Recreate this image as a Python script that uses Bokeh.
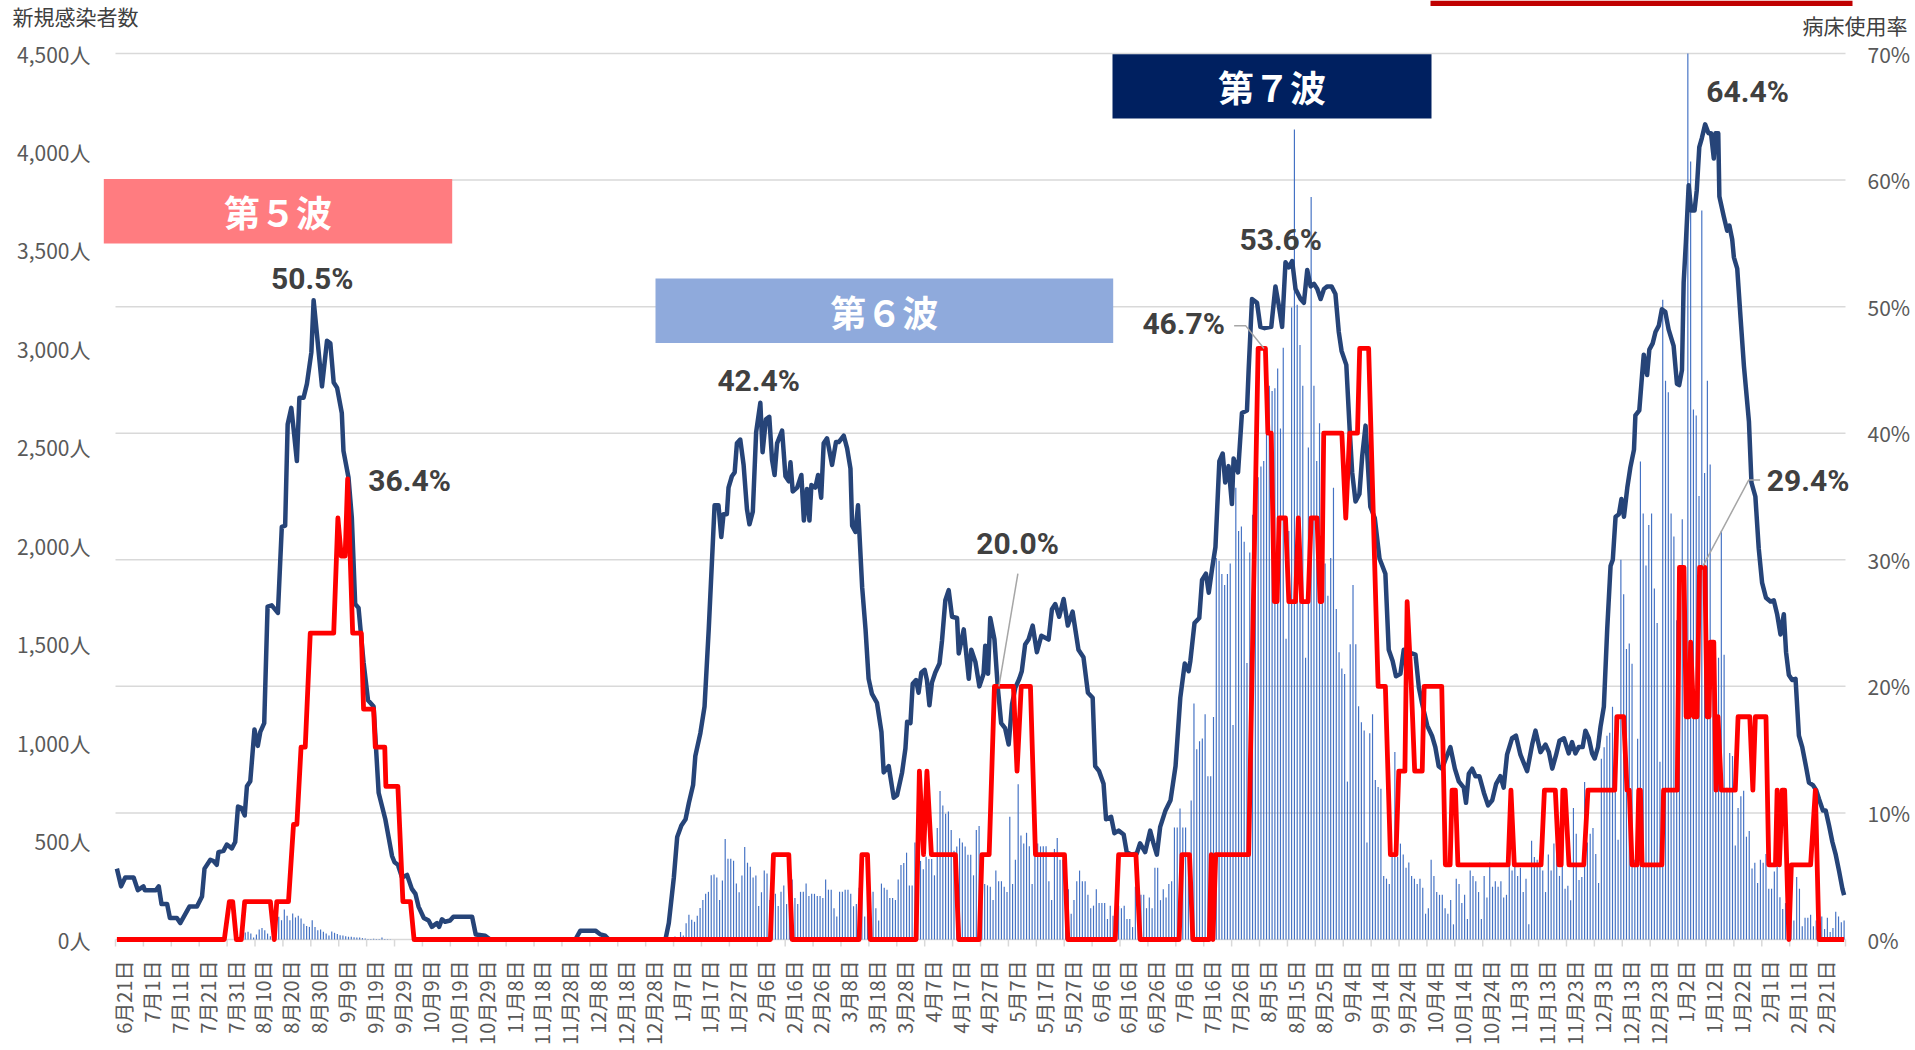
from datetime import date, timedelta
from math import pi

from bokeh.core.properties import value
from bokeh.embed import file_html
from bokeh.models import (BoxAnnotation, ColumnDataSource, Label, LabelSet, Range1d)
from bokeh.plotting import figure
from bokeh.resources import INLINE

# ------------------------------------------------------------------ data
start_date = date(2021, 6, 21)
n_days = 620
tick_days = list(range(0, 611, 10))
tick_labels = [f"{(start_date + timedelta(days=d)).month}月{(start_date + timedelta(days=d)).day}日"
               for d in tick_days]

cases_ticks = [0, 500, 1000, 1500, 2000, 2500, 3000, 3500, 4000, 4500]
cases_tick_labels = [f"{v:,}人" for v in cases_ticks]
rate_ticks = [0, 10, 20, 30, 40, 50, 60, 70]
rate_tick_labels = [f"{v}%" for v in rate_ticks]

# daily new cases (bars)
cases_w5_start = 46
cases_w5 = [36, 39, 30, 10, 25, 51, 58, 47, 30, 17, 30, 60, 115, 98, 152, 120, 98, 132, 112, 120,
            107, 80, 68, 64, 98, 64, 47, 51, 39, 30, 20, 41, 34, 28, 22, 20, 17, 14, 14, 12,
            10, 10, 7, 5, 3, 3, 4, 3, 2, 10, 3, 2, 1]
cases_w6_start = 200
cases_w6 = [15, 10, 38, 20, 82, 126,
            100, 90, 120, 160, 200, 232, 242, 326, 330, 315,
            200, 300, 510, 410, 410, 400, 285, 240, 325, 470,
            390, 370, 315, 325, 170, 240, 350, 335, 200, 242,
            232, 170, 242, 274, 180, 305, 305, 211, 180, 242,
            242, 284, 221, 232, 232, 221, 221, 211, 305, 253,
            253, 159, 117, 242, 242, 253, 253, 232, 169, 180,
            263, 263, 117, 242, 242, 242, 159, 96, 284, 263,
            253, 211, 211, 200, 305, 378, 389, 441, 274, 274,
            493, 409, 399, 357, 420, 409, 409, 326, 566, 754,
            681, 639, 650, 556, 451, 472, 514, 493, 472, 430,
            430, 326, 556, 577]
cases_w7_start = 310
cases_w7 = [249, 282, 275, 268, 200, 350, 296, 296, 268, 241,
            624, 282, 405, 788, 528, 487, 542, 473, 282, 651,
            487, 473, 473, 473, 296, 200, 460, 515, 405, 405,
            268, 255, 131, 200, 296, 350, 296, 296, 227, 159,
            172, 255, 186, 186, 186, 104, 172, 120, 77, 172,
            159, 172, 104, 104, 63, 268, 77, 227, 227, 159,
            213, 159, 364, 364, 200, 255, 213, 282, 296, 569,
            569, 665, 569, 569, 419, 706, 1199, 966, 1007, 1021,
            1144, 829, 829, 1130, 1938, 1924, 1856, 1801, 1856, 1910,
            1089, 2294, 2075, 2097, 2020, 1404, 1965, 2157, 2294, 2348,
            2403, 2430, 2896, 2813,
            2786, 2800, 2900, 2595, 3005, 1527, 2075, 3210, 4114, 3224,
            3019, 2813, 1431, 2499, 3771, 2813, 2430, 2622, 2075, 1910,
            1746, 1938, 2294, 1678, 1459, 1377, 1349, 802, 1500, 1801,
            1500, 1185, 1103, 1062, 493, 1048, 1144, 810, 775, 766,
            323, 309, 282, 432, 952, 419, 487, 432, 364, 391,
            323, 309, 282, 309, 263, 131, 159, 405, 323, 241,
            227, 227, 159, 131, 200, 77, 309, 282, 186, 227,
            104, 350, 323, 296, 241, 104, 323, 213, 391, 268,
            296, 268, 296, 213, 227, 391, 350, 378, 323, 364,
            241, 309, 77, 501, 419, 405, 378, 350, 241, 432,
            350, 487, 432, 323]
cases_w8_start = 518
cases_w8 = [405, 258, 273, 199, 668, 537, 302, 317, 800, 493,
            537, 566, 434, 287, 918, 976, 1035, 1050, 1182, 1138,
            507, 1929, 1753, 1475, 1504, 1401, 405, 1020, 2428, 2164,
            1900, 2105, 2164, 1783, 1607, 903, 3249, 2838, 2780, 2164,
            2047, 1621, 1636, 2134, 1753, 4500, 3952, 2692, 2662, 2252,
            3703, 2369, 2838, 2413, 1460, 1079, 1431, 2076, 1446, 771,
            947, 932, 478, 668, 727, 756, 522, 551, 361, 390,
            287, 405, 390, 434, 258, 258, 346, 522, 214, 155,
            185, 97, 141, 97, 317, 258, 67, 111, 111, 126,
            67, 97, 76, 117, 53, 111, 38, 59, 141, 117,
            88, 97]

# bed occupancy rate (navy line), (day, %)
bed_rate_w5 = [(0, 5.6), (1.5, 4.2), (3, 4.9), (6, 4.9), (7.5, 3.9), (9.5, 4.2), (10, 3.9), (14, 3.9),
               (15, 4.2), (16, 2.8), (18, 2.8), (19, 1.7), (21.5, 1.7), (22.7, 1.3), (26, 2.6),
               (28.7, 2.6), (30.5, 3.4), (31.4, 5.6), (33.5, 6.3), (34.6, 6.2), (35.8, 5.9),
               (36.4, 6.9), (38.2, 7.0), (39.4, 7.5), (41.2, 7.2), (42.4, 7.7), (43.4, 10.5),
               (44.6, 10.4), (45.8, 9.8), (46.6, 12.1), (47.8, 12.5), (49.3, 16.6), (50.5, 15.3),
               (51.4, 16.4), (52.8, 17.1), (54, 26.3), (55.5, 26.4), (57.7, 25.8), (59.1, 32.6),
               (60.3, 32.7), (61.2, 40.7), (62.5, 42.0), (63.3, 40.4), (64.5, 37.8), (65.4, 42.8),
               (66.9, 42.8), (68.1, 43.9), (69.7, 46.4), (70.5, 50.5), (71.7, 47.8), (73.5, 43.7),
               (75.3, 47.3), (76.5, 47.1), (77.7, 44.0), (78.9, 43.6), (80.6, 41.6), (81.2, 38.6),
               (83, 36.5), (84.2, 33.3), (85.4, 26.5), (86.6, 26.2), (88.4, 21.9), (90, 18.9),
               (92, 18.4), (93.8, 11.6), (96.2, 9.5), (98.6, 6.6), (99.5, 6.1), (100.7, 5.9),
               (102.2, 4.9), (104, 5.1), (105.7, 4.0), (107, 3.6), (108.1, 2.6), (110, 1.7),
               (111.7, 1.5), (112.9, 1.0), (114.7, 1.3), (115.5, 1.0), (116.5, 1.6), (117.6, 1.4),
               (119.4, 1.5), (120.6, 1.8), (127.3, 1.8), (128.6, 0.4), (132, 0.3), (133.8, 0),
               (164.3, 0), (166.1, 0.7), (171.5, 0.7), (173.3, 0.4), (175, 0.3), (176.3, 0),
               (196.6, 0), (197.8, 1.3), (199.6, 4.9), (200.8, 8.1), (202.3, 9.0), (203.8, 9.5),
               (205, 10.8)]
bed_rate_w6 = [(206.5, 12.2), (207.3, 14.5), (209.1, 16.3), (210.6, 18.4), (212.1, 24.5), (213.5, 31.0),
               (214.2, 34.3), (215.6, 34.3), (216.6, 31.8), (217.4, 33.6), (218.6, 33.6), (219.2, 35.7),
               (220.4, 36.6), (221.4, 36.9), (222.2, 39.2), (223.4, 39.5), (224.6, 37.5), (225.8, 34.0),
               (226.7, 32.8), (227.9, 33.8), (229.1, 40.1), (230.6, 42.4), (231.4, 38.5), (232.6, 41.1),
               (233.8, 41.3), (234.8, 37.9), (235.7, 36.7), (236.6, 39.2), (238.4, 40.2), (239.6, 36.6),
               (240.8, 36.2), (241.4, 37.7), (242.2, 35.4), (243.8, 35.7), (245.3, 36.7), (246.2, 33.1),
               (247.3, 35.6), (248.2, 33.1), (248.9, 35.9), (250.3, 35.7), (251.3, 36.7), (252.4, 34.9),
               (253.3, 39.2), (254.5, 39.6), (256.3, 37.5), (257.7, 39.3), (258.7, 39.3), (260.5, 39.8),
               (261.7, 38.8), (262.9, 37.2), (263.5, 32.7), (264.7, 32.2), (265.6, 34.3), (267.1, 27.8),
               (268.3, 24.5), (269.4, 20.6), (270.6, 19.4), (272.4, 18.7), (274, 16.4), (274.8, 13.2),
               (276.6, 13.7), (278.4, 11.2), (279.6, 11.4), (281.4, 13.2), (282.6, 15.1), (283.2, 17.2),
               (284.4, 17.1), (285.2, 20.2), (286.4, 20.5), (287.3, 19.5), (288.3, 21.1), (289.5, 21.3),
               (290.3, 20.5), (291.2, 18.5), (292.1, 20.3), (293.3, 21.1), (294.8, 21.8), (295.7, 23.6),
               (296.9, 26.8), (298.1, 27.6), (299.3, 25.5), (301.1, 25.4), (301.7, 22.6), (303.5, 24.5),
               (305.3, 20.6), (306.2, 22.9), (307.7, 21.9), (309.1, 20.0), (310.6, 21.0), (311.2, 23.2),
               (312.2, 21.0), (313, 25.4), (314.5, 23.7), (315.7, 19.9), (316.9, 17.1), (318.3, 16.7),
               (319.6, 15.4), (320.8, 18.6), (322, 19.9), (323.4, 20.6), (324.3, 21.2), (325.5, 23.3),
               (326.7, 23.7), (328.2, 24.8), (329.7, 22.7), (331.3, 24.0), (333.9, 23.7), (335.1, 26.1),
               (336.3, 26.5), (337.7, 25.5), (339.3, 26.9), (340.8, 24.8), (342.5, 25.9), (344.6, 22.9),
               (346.4, 22.3), (348, 19.5), (349.7, 19.1), (350.6, 13.7), (352, 13.3), (353.6, 12.3),
               (354.5, 9.5), (356.3, 9.7), (357.5, 8.4), (359, 8.6), (360.8, 8.3), (361.9, 6.9),
               (363.7, 6.7), (365.5, 6.8), (366.7, 7.6), (368.5, 6.9), (370.3, 8.6), (371.5, 7.6),
               (372.7, 6.7), (373.9, 8.9)]
bed_rate_w7 = [(375.8, 10.2), (377.6, 11.0), (379.4, 13.7), (381.1, 19.1), (382.7, 21.8), (384.1, 21.2),
               (384.7, 22.0), (386.2, 25.0), (387.9, 25.4), (388.9, 28.4), (390.3, 28.9), (391.3, 27.4),
               (392.5, 29.3), (393.7, 31.0), (395.1, 37.8), (396.3, 38.4), (397.2, 36.1), (398.4, 37.4),
               (399.6, 34.4), (400.2, 38.0), (401.8, 36.9), (403.2, 41.6), (405, 41.8), (405.6, 45.0),
               (406.8, 50.6), (408.6, 50.3), (409.8, 48.4), (411.3, 48.3), (413.7, 48.4), (415.2, 51.6),
               (416.4, 50.1), (417.6, 48.4), (418.8, 53.5), (420, 53.1), (421.2, 53.6), (422.4, 51.4),
               (424.2, 50.6), (425.4, 50.3), (426.6, 52.9), (427.8, 51.6), (429, 51.8), (430.2, 51.4),
               (431.4, 50.6), (432.6, 51.4), (433.8, 51.6), (435.3, 51.6), (436.7, 51.0), (437.9, 48.0),
               (438.9, 46.5), (440.6, 45.4), (441.8, 40.3), (442.7, 36.9), (443.9, 34.6), (445.3, 35.2),
               (446.3, 38.2), (447.5, 40.6), (448.6, 36.5), (449.2, 34.2), (450.8, 33.3), (452.5, 30.1),
               (454.6, 28.9), (455.8, 22.9), (457.2, 22.0), (458.4, 20.8), (460, 21.0), (461.2, 22.9),
               (462.7, 22.7), (465.4, 22.5), (466.6, 19.9), (467.8, 18.6), (469.6, 16.9), (471.3, 16.1),
               (472.5, 15.2), (473.7, 13.7), (474.9, 13.5), (476.1, 14.2), (477.9, 15.2), (479.5, 13.5),
               (480.9, 12.5), (482.7, 12.0), (483.5, 10.8), (484.5, 13.1), (485.7, 13.5), (486.9, 12.9),
               (488.3, 12.9), (489.9, 11.6), (491.4, 10.6), (492.9, 11.0), (494.3, 12.3), (495.8, 12.9),
               (497, 12.0), (498.2, 14.6), (500, 15.9), (501.4, 16.1), (503, 14.6), (505.4, 13.3),
               (507.2, 15.4), (508.4, 16.5), (510.2, 14.8), (512, 15.4), (513.2, 14.8), (514.4, 13.5),
               (515.8, 14.6), (517, 15.7)]
bed_rate_w8 = [(518.6, 15.9), (520.3, 14.7), (521.5, 15.6), (522.7, 14.7), (523.9, 15.2), (525.3, 15.2),
               (526.3, 16.5), (527.5, 15.9), (528.7, 14.7), (529.6, 14.3), (530.8, 15.2), (531.7, 16.8),
               (532.9, 18.4), (534.1, 24.5), (535.3, 29.5), (536.1, 30.0), (537.1, 33.4), (538.3, 33.6),
               (539.2, 34.8), (540.1, 33.4), (541.3, 35.7), (542.4, 37.3), (543.7, 38.7), (544.2, 41.4),
               (545.6, 41.8), (546.6, 44.6), (547.2, 46.2), (548.4, 44.6), (549.2, 46.6), (550.4, 47.1),
               (551.4, 48.0), (552.6, 48.5), (553.7, 49.8), (554.9, 49.6), (556.1, 48.2), (557.9, 46.9),
               (559.1, 43.9), (559.9, 43.8), (560.9, 45.0), (561.5, 51.9), (562.3, 55.1), (563.3, 59.6),
               (564.2, 57.6), (565.4, 57.6), (566.2, 59.2), (567.1, 62.6), (568, 63.3), (569.2, 64.4),
               (570.4, 63.7), (571.3, 63.7), (572.3, 61.7), (572.9, 63.7), (573.9, 63.7), (574.3, 58.7),
               (575.9, 57.1), (577.1, 56.0), (577.9, 56.4), (578.9, 55.3), (579.5, 53.9), (580.7, 53.0),
               (581.9, 49.1), (583.1, 45.3), (584.9, 40.9), (585.8, 36.1), (587.2, 35.0), (588.4, 30.9),
               (589.6, 28.2), (591, 27.0), (592.6, 26.7), (593.8, 26.8), (595, 25.7), (596.2, 24.1),
               (597.4, 25.7), (598.2, 22.7), (599.2, 20.9), (600.4, 20.5), (601.6, 20.6), (602.8, 16.1),
               (604, 15.2), (605.4, 13.6), (606.4, 12.4), (607.8, 12.2), (609, 11.8), (610, 11.1),
               (611.4, 10.2), (612.4, 10.2), (613.6, 9.0), (614.8, 7.7), (616, 6.7), (617.2, 5.4),
               (618.4, 4.0), (619, 3.5)]

# severe-case bed occupancy rate (red line), (day, %)
severe_rate_w5 = [(0, 0), (38.5, 0), (40.3, 3.0), (41.5, 3.0), (42.8, 0), (44.6, 0), (45.8, 3.0),
                  (55.0, 3.0), (56.4, 0), (57.3, 3.0), (61.5, 3.0), (63.3, 9.1), (64.5, 9.1),
                  (66.0, 15.2), (67.5, 15.2), (69.3, 24.2), (77.7, 24.2), (79.2, 33.3), (80.4, 30.3),
                  (81.8, 30.3), (82.7, 36.4), (84.5, 24.2), (87.6, 24.2), (88.4, 18.2), (92.0, 18.2),
                  (92.6, 15.2), (96.0, 15.2), (96.4, 12.1), (100.7, 12.1), (102.5, 3.0), (105.2, 3.0),
                  (106.5, 0)]
severe_rate_w6 = [(234.2, 0), (235.3, 6.7), (240.8, 6.7), (242.0, 0), (266.0, 0), (267.0, 6.7),
                  (269.0, 6.7), (270.0, 0), (286.4, 0), (287.6, 13.3), (289.1, 6.7), (290.3, 13.3),
                  (291.9, 6.7), (300.5, 6.7), (301.7, 0), (309.1, 0), (310.0, 6.7), (312.6, 6.7),
                  (314.5, 20.0), (321.3, 20.0), (322.6, 13.3), (324.1, 20.0), (327.4, 20.0),
                  (329.2, 6.7), (339.6, 6.7), (340.8, 0), (357.8, 0), (359.0, 6.7), (365.2, 6.7),
                  (366.7, 0), (380.7, 0), (381.7, 6.7), (384.4, 6.7), (385.6, 0), (391.5, 0),
                  (392.2, 6.7), (392.8, 0), (393.8, 6.7)]
severe_rate_w7 = [(405.6, 6.7), (409.0, 46.7), (411.6, 46.7), (412.5, 40.0), (413.7, 40.0), (414.8, 26.7),
                  (415.8, 26.7), (416.5, 33.3), (418.8, 33.3), (420.0, 26.7), (422.4, 26.7), (423.4, 33.3),
                  (424.6, 26.7), (426.9, 26.7), (428.0, 33.3), (430.1, 33.3), (431.2, 26.7), (431.8, 26.7),
                  (432.5, 40.0), (439.0, 40.0), (440.4, 33.3), (441.8, 40.0), (444.6, 40.0), (445.4, 46.7),
                  (448.6, 46.7), (452.0, 20.0), (454.6, 20.0), (456.4, 6.7), (458.4, 6.7), (459.4, 13.3),
                  (461.6, 13.3), (462.4, 26.7), (463.9, 20.0), (465.1, 13.3), (467.8, 13.3), (468.5, 20.0),
                  (474.8, 20.0), (476.1, 5.9), (477.8, 5.9), (478.5, 11.8), (479.7, 11.8), (480.6, 5.9),
                  (498.6, 5.9), (499.6, 11.8), (500.8, 5.9), (510.4, 5.9), (511.6, 11.8), (515.5, 11.8),
                  (516.8, 5.9), (517.6, 5.9)]
severe_rate_w8 = [(518.2, 11.8), (519.0, 11.8), (520.4, 5.9), (525.7, 5.9), (527.2, 11.8), (536.8, 11.8),
                  (537.6, 17.6), (540.0, 17.6), (541.2, 11.8), (542.0, 11.8), (543.0, 5.9), (544.8, 5.9),
                  (545.4, 11.8), (546.0, 11.8), (546.6, 5.9), (553.7, 5.9), (554.3, 11.8), (559.2, 11.8),
                  (560.0, 29.4), (561.6, 29.4), (562.4, 17.6), (563.4, 17.6), (564.0, 23.5), (565.1, 17.6),
                  (566.3, 17.6), (567.2, 29.4), (569.1, 29.4), (569.9, 17.6), (570.6, 17.6), (571.1, 23.5),
                  (572.3, 23.5), (573.1, 11.8), (573.8, 17.6), (575.0, 11.8), (580.0, 11.8), (581.0, 17.6),
                  (585.2, 17.6), (586.3, 11.8), (587.2, 17.6), (591.0, 17.6), (592.0, 5.9), (594.4, 5.9),
                  (595.0, 11.8), (595.8, 5.9), (596.8, 11.8), (597.7, 11.8), (599.2, 0), (600.1, 5.9),
                  (607.0, 5.9), (608.7, 11.8), (610.0, 0), (619.0, 0)]

# peak annotations: (text, day, %)
peak_labels = [("50.5%", 70.0, 52.2), ("36.4%", 104.9, 36.3), ("42.4%", 230.0, 44.2),
               ("20.0%", 322.8, 31.3), ("46.7%", 382.3, 48.7), ("53.6%", 417.1, 55.3),
               ("64.4%", 584.4, 67.0), ("29.4%", 606.1, 36.3)]
leader_lines = [[(322.9, 28.9), (316.1, 20.0)],
                [(400.4, 48.5), (404.5, 48.5), (411.1, 46.7)],
                [(588.9, 36.3), (584.8, 36.3), (568.4, 29.5)]]

wave_names = ["第５波", "第６波", "第７波"]
wave_colors = ["#FF7C80", "#8FAADC", "#002060"]

# ------------------------------------------------------------------ layout (page px)
W, H = 1915, 1050
PLOT_L, PLOT_R = 115.0, 1845.0    # page x of the category area
PLOT_B, PLOT_T = 939.0, 53.0      # page y of 0 and of the axis maximum
LEFT_MAX, RIGHT_MAX = 4500, 70
px_per_day = (PLOT_R - PLOT_L) / n_days
cases_per_px = LEFT_MAX / (PLOT_B - PLOT_T)
pct_per_px = RIGHT_MAX / (PLOT_B - PLOT_T)


def sx(page_x):   # screen x inside the frame (frame == canvas)
    return page_x


def sy(page_y):   # screen y (measured from the bottom) inside the frame
    return H - page_y


x_start = -PLOT_L / px_per_day - 0.5
x_end = (W - PLOT_L) / px_per_day - 0.5
y_top_px = PLOT_B
y_bot_px = H - PLOT_B

# wave banner boxes, page px (left, right, top, bottom)
wave_boxes = [(103.3, 451.7, 178.5, 243.0), (655.0, 1112.7, 278.0, 342.5), (1112.0, 1431.0, 53.7, 118.0)]

# ------------------------------------------------------------------ build
new_cases = [0] * n_days
for s, seg in [(cases_w5_start, cases_w5), (cases_w6_start, cases_w6),
               (cases_w7_start, cases_w7), (cases_w8_start, cases_w8)]:
    for i, v in enumerate(seg):
        if s + i < n_days:
            new_cases[s + i] = v
days = list(range(n_days))

bed_pts = bed_rate_w5 + bed_rate_w6 + bed_rate_w7 + bed_rate_w8
severe_pts = severe_rate_w5 + severe_rate_w6 + severe_rate_w7 + severe_rate_w8

p = figure(width=W, height=H, output_backend="svg", toolbar_location=None, title=None,
           x_axis_type=None, y_axis_type=None,
           x_range=Range1d(x_start, x_end),
           y_range=Range1d(-y_bot_px * cases_per_px, y_top_px * cases_per_px),
           min_border=0, min_border_left=0, min_border_right=0, min_border_top=0, min_border_bottom=0)
p.extra_y_ranges = {"pct": Range1d(-y_bot_px * pct_per_px, y_top_px * pct_per_px)}
p.outline_line_color = None
p.background_fill_color = "white"
p.border_fill_color = "white"

x_first, x_last = -0.5, n_days - 0.5

# horizontal gridlines (right-axis ticks)
p.segment(x0=[x_first] * len(rate_ticks), x1=[x_last] * len(rate_ticks), y0=rate_ticks, y1=rate_ticks,
          y_range_name="pct", line_color="#D9D9D9", line_width=1.5)
# category-axis tick marks (every 10 days, at category boundaries)
bounds = [d - 0.5 for d in tick_days + [n_days]]
tick_len = 7 * pct_per_px
p.segment(x0=bounds, x1=bounds, y0=[0] * len(bounds), y1=[-tick_len] * len(bounds),
          y_range_name="pct", line_color="#D9D9D9", line_width=1.5)

# bars
p.vbar(x=days, top=new_cases, width=0.42, fill_color="#4472C4", line_color=None)
# lines
p.line([d for d, _ in bed_pts], [v for _, v in bed_pts], y_range_name="pct",
       line_color="#264478", line_width=4.5, line_join="round")
p.line([d for d, _ in severe_pts], [v for _, v in severe_pts], y_range_name="pct",
       line_color="#FF0000", line_width=4.8, line_join="round")
for seg in leader_lines:
    p.line([d for d, _ in seg], [v for _, v in seg], y_range_name="pct",
           line_color="#A6A6A6", line_width=1.5)

# axis tick labels
lab_font = value("Noto Sans CJK JP")
p.add_layout(LabelSet(x=sx(90), x_units="screen", y="y", text="text",
                      source=ColumnDataSource(dict(y=cases_ticks, text=cases_tick_labels)),
                      text_align="right", text_baseline="middle", text_font=lab_font,
                      text_font_size="21px", text_color="#595959"))
p.add_layout(LabelSet(x=sx(1867), x_units="screen", y="y", y_range_name="pct", text="text",
                      source=ColumnDataSource(dict(y=rate_ticks, text=rate_tick_labels)),
                      text_align="left", text_baseline="middle", text_font=lab_font,
                      text_font_size="21px", text_color="#595959"))
p.add_layout(LabelSet(x="x", y=sy(960), y_units="screen", text="text",
                      source=ColumnDataSource(dict(x=tick_days, text=tick_labels)),
                      angle=pi / 2, text_align="right", text_baseline="middle", x_offset=6.5,
                      text_font=lab_font, text_font_size="20px", text_color="#595959"))

# axis titles
p.add_layout(Label(x=sx(12), y=sy(0.5), x_units="screen", y_units="screen", text="新規感染者数",
                   text_align="left", text_baseline="top", text_font="Noto Sans CJK JP",
                   text_font_size="21px", text_color="#404040"))
p.add_layout(Label(x=sx(1907), y=sy(9.5), x_units="screen", y_units="screen", text="病床使用率",
                   text_align="right", text_baseline="top", text_font="Noto Sans CJK JP",
                   text_font_size="21px", text_color="#404040"))

# peak value labels
for txt, d, v in peak_labels:
    p.add_layout(Label(x=d, y=v, y_range_name="pct", text=txt, text_align="center",
                       text_baseline="middle", text_font="Roboto", text_font_style="bold",
                       text_font_size="30px", text_color="#404040"))

# wave banners
for name, col, (l, r, t, b) in zip(wave_names, wave_colors, wave_boxes):
    p.add_layout(BoxAnnotation(left=sx(l), right=sx(r), bottom=sy(b), top=sy(t), left_units="screen",
                               right_units="screen", bottom_units="screen", top_units="screen",
                               fill_color=col, fill_alpha=1.0, line_color=None))
    p.add_layout(Label(x=sx((l + r) / 2), y=sy((t + b) / 2), x_units="screen", y_units="screen",
                       text=name, text_align="center", text_baseline="middle",
                       text_font="Noto Sans CJK JP", text_font_style="bold",
                       text_font_size="36px", text_color="white"))

# red header strip cut off at the very top of the original
p.add_layout(BoxAnnotation(left=sx(1430), right=sx(1852), bottom=sy(5.5), top=sy(0),
                           left_units="screen", right_units="screen", bottom_units="screen",
                           top_units="screen", fill_color="#C00000", fill_alpha=1.0, line_color=None))

open("out.html", "w").write(file_html(p, INLINE))
